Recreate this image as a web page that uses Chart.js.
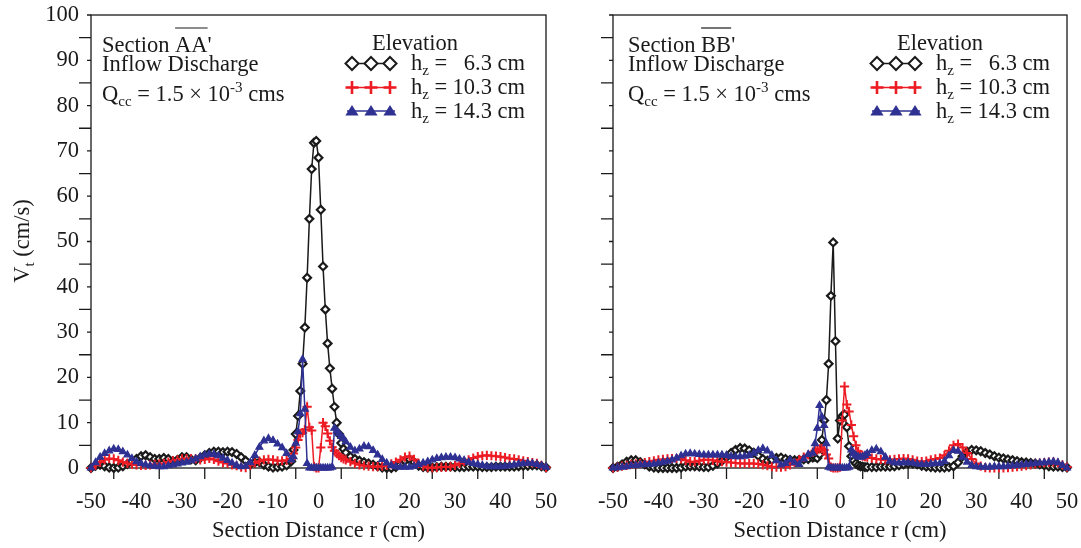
<!DOCTYPE html>
<html>
<head>
<meta charset="utf-8">
<script src="https://cdn.jsdelivr.net/npm/chart.js@4/dist/chart.umd.min.js"></script>
<style>
  body { margin: 0; background: #fff; width: 1081px; height: 548px; position: relative; overflow: hidden; }
  canvas { position: absolute; top: 0; }
  #chartA { left: 0; }
  #chartB { left: 562px; }
</style>
</head>
<body>
<canvas id="chartA" width="562" height="548"></canvas>
<canvas id="chartB" width="519" height="548"></canvas>
<script>
// section distance r (cm), finer spacing around the jet core
const distance = [
  -50, -49, -48, -47, -46, -45, -44, -43, -42, -41,
  -40, -39, -38, -37, -36, -35, -34, -33, -32, -31,
  -30, -29, -28, -27, -26, -25, -24, -23, -22, -21,
  -20, -19, -18, -17, -16, -15, -14, -13, -12, -11,
  -10, -9, -8, -7,
  -6, -5.5, -5, -4.5, -4, -3.5, -3, -2.5, -2, -1.5, -1, -0.5, 0, 0.5, 1, 1.5, 2, 2.5, 3, 3.5, 4, 4.5, 5, 5.5, 6,
  7, 8, 9, 10,
  11, 12, 13, 14, 15, 16, 17, 18, 19, 20,
  21, 22, 23, 24, 25, 26, 27, 28, 29, 30,
  31, 32, 33, 34, 35, 36, 37, 38, 39, 40,
  41, 42, 43, 44, 45, 46, 47, 48, 49, 50
];

// Section AA'  -  Vt (cm/s)
const sectionA_h63 = [
  0, 0.5, 0.7, 0.4, 0.1, 0, 0.1, 0.4, 0.9, 1.4,
  2.0, 2.6, 2.8, 2.4, 2.0, 2.0, 2.2, 2.0, 1.5, 1.8,
  2.4, 2.4, 1.9, 1.7, 2.2, 2.8, 3.3, 3.6, 3.6, 3.5,
  3.6, 3.5, 3.1, 2.4, 1.6, 0.8, 1.2, 1.3, 0.7, 0.3,
  0.1, 0.2, 0.3, 0.6,
  1.5, 4, 7.5, 11.5, 17, 23, 31, 42, 55, 66, 71.8, 72.2, 68.5, 57, 44.5, 35, 27.5, 22, 17.5, 13.5, 10, 7.5, 5.5, 4.2, 3.4,
  2.5, 2.0, 1.6, 1.3,
  1.0, 0.7, 0.4, 0.1, 0, 0, 0.2, 0.8, 1.6, 1.9,
  1.3, 0.5, 0.2, 0.1, 0.1, 0.2, 0.3, 0.3, 0.3, 0.2,
  0.2, 0.2, 0.3, 0.3, 0.3, 0.2, 0.2, 0.2, 0.3, 0.3,
  0.3, 0.3, 0.3, 0.4, 0.5, 0.5, 0.6, 0.6, 0.4, 0.1
];
const sectionA_h103 = [
  0, 0.6, 1.3, 1.8, 2.1, 2.0, 1.7, 1.3, 1.0, 0.8,
  0.7, 0.6, 0.6, 0.7, 0.8, 0.9, 1.0, 1.3, 1.6, 1.8,
  2.0, 2.1, 2.1, 2.0, 1.8, 1.9, 2.1, 1.9, 1.5, 1.2,
  1.0, 0.7, 0.5, 0.2, 0.1, 0.6, 1.1, 1.5, 1.8, 1.9,
  1.8, 1.6, 1.6, 1.7,
  2.0, 3.2, 4.5, 6.2, 7.5, 7.8, 8.5, 13.5, 9, 8.3, 0.3, 0, 0, 4.5, 10, 9.2, 7.6, 6, 4.6, 3.8, 3.2, 2.7, 2.3, 2.0, 1.8,
  1.4, 1.0, 0.7, 0.5,
  0.4, 0.3, 0.3, 0.4, 0.6, 0.9, 1.3, 1.8, 2.4, 2.6,
  1.9, 1.0, 0.4, 0.1, 0, 0.1, 0.2, 0.2, 0.3, 0.6,
  1.0, 1.4, 1.8, 2.2, 2.5, 2.7, 2.8, 2.7, 2.6, 2.5,
  2.3, 2.1, 2.0, 1.8, 1.6, 1.4, 1.2, 1.0, 0.6, 0.1
];
const sectionA_h143 = [
  0, 1.2, 2.4, 3.2, 3.8, 4.2, 4.1, 3.6, 2.9, 2.1,
  1.4, 1.0, 0.7, 0.5, 0.4, 0.3, 0.3, 0.5, 0.7, 0.9,
  1.1, 1.3, 1.6, 2.0, 2.5, 2.9, 3.1, 3.0, 2.7, 2.2,
  1.7, 1.1, 0.6, 0.3, 0.4, 1.2, 2.8, 4.6, 6.0, 6.5,
  6.1, 5.3, 4.5, 3.2,
  1.8, 2.5, 5.5, 8, 12, 24, 13, 1, 0, 0, 0, 0, 0, 0, 0, 0, 0, 0, 0.2, 8.8, 8.2, 7.6, 7.0, 6.5, 5.8,
  4.6, 3.8, 4.2, 4.8,
  4.7, 3.9, 2.9, 1.9, 1.1, 0.6, 0.3, 0.2, 0.2, 0.2,
  0.4, 0.8, 1.1, 1.4, 1.8, 2.1, 2.3, 2.4, 2.4, 2.3,
  2.0, 1.7, 1.3, 1.0, 0.8, 0.6, 0.4, 0.3, 0.3, 0.3,
  0.4, 0.5, 0.7, 0.9, 1.0, 1.1, 1.0, 0.8, 0.5, 0.2
];

// Section BB'  -  Vt (cm/s)
const sectionB_h63 = [
  0, 0.3, 0.8, 1.4, 1.7, 1.7, 1.3, 0.8, 0.3, 0.1,
  0, 0, 0, 0, 0, 0.1, 0.3, 0.4, 0.4, 0.3,
  0.2, 0.2, 0.5, 1.0, 1.6, 2.4, 3.3, 4.0, 4.4, 4.3,
  3.9, 3.4, 2.7, 2.0, 1.6, 1.8, 2.2, 2.3, 2.0, 1.8,
  1.7, 1.8, 1.9, 2.0,
  2.3, 2.5, 2.2, 3.0, 6.2, 10.5, 15, 23, 38, 49.8, 28, 6.5, 10.5, 11.5, 11.8, 9, 4.8, 2.6, 1.6, 1.0, 0.6, 0.4, 0.3, 0.2, 0.2,
  0.2, 0.2, 0.3, 0.3,
  0.3, 0.4, 0.6, 0.8, 1.0, 1.0, 0.8, 0.5, 0.3, 0.2,
  0.1, 0.1, 0.1, 0.2, 0.4, 1.2, 2.6, 3.6, 4.0, 3.9,
  3.7, 3.3, 3.0, 2.6, 2.3, 2.1, 1.9, 1.7, 1.5, 1.3,
  1.2, 1.1, 1.0, 0.8, 0.6, 0.4, 0.3, 0.3, 0.2, 0.1
];
const sectionB_h103 = [
  0, 0.2, 0.4, 0.6, 0.8, 0.9, 1.0, 1.2, 1.4, 1.6,
  1.8, 1.9, 2.0, 2.1, 2.1, 2.0, 1.7, 1.4, 1.4, 1.6,
  1.8, 1.8, 1.7, 1.5, 1.4, 1.3, 1.2, 1.1, 1.0, 1.0,
  1.0, 1.0, 0.9, 0.7, 0.5, 0.3, 0.2, 0.2, 0.3, 0.7,
  1.2, 1.8, 2.4, 2.9,
  3.5, 3.8, 4.0, 4.2, 4.3, 4.0, 3.0, 2.1, 0.2, 0, 0, 0, 0.2, 10.5, 18, 14, 12.5, 9.5, 7, 5, 3.7, 3.0, 2.6, 2.5, 2.4,
  2.2, 2.0, 1.9, 1.8,
  1.8, 1.9, 2.0, 2.1, 2.0, 1.8, 1.5, 1.4, 1.5, 1.8,
  2.0, 2.2, 2.8, 3.8, 5.0, 5.3, 4.5, 3.3, 2.0, 1.0,
  0.4, 0.1, 0, 0, 0, 0, 0.1, 0.2, 0.3, 0.4,
  0.5, 0.7, 0.9, 1.1, 1.2, 1.3, 1.3, 1.1, 0.7, 0.2
];
const sectionB_h143 = [
  0, 0.1, 0.2, 0.3, 0.5, 0.6, 0.7, 0.8, 0.8, 0.9,
  1.1, 1.3, 1.5, 1.8, 2.2, 2.7, 3.1, 3.2, 3.1, 3.0,
  2.9, 2.9, 2.9, 2.9, 2.9, 2.8, 2.6, 2.5, 2.5, 2.6,
  2.8, 3.3, 3.9, 4.3, 3.8, 2.8, 1.6, 0.7, 1.0, 1.8,
  1.2, 0.8, 2.0, 3.0,
  3.3, 5.4, 8.8, 13.8, 11.3, 9.4, 5.4, 0.2, 0, 0, 0, 0, 0, 0, 0, 0, 0.2, 4.0, 3.2, 2.8, 2.5, 2.4, 2.5, 2.8, 3.2,
  3.9, 4.2, 3.6, 2.4,
  1.5, 1.2, 1.1, 1.2, 1.2, 1.1, 0.9, 0.8, 0.8, 0.9,
  1.0, 1.0, 1.5, 2.7, 3.9, 3.7, 2.4, 1.3, 0.6, 0.3,
  0.2, 0.2, 0.2, 0.3, 0.3, 0.3, 0.4, 0.5, 0.6, 0.7,
  0.8, 0.9, 1.0, 1.1, 1.2, 1.3, 1.4, 1.2, 0.6, 0
];

const elevations = ['6.3 cm', '10.3 cm', '14.3 cm'];

const FONT = '"Liberation Serif", "Times New Roman", serif';
const FS = 22.5;   // main text size
const SS = 15;     // sub/superscript size
const INK = '#1a1a1a';
const RED = '#ed1c24';
const BLUE = '#2e3192';

function points(vals) {
  return distance.map((r, i) => ({ x: r, y: vals[i] }));
}

function makeDatasets(h63, h103, h143) {
  return [
    { label: elevations[2], data: points(h143), order: 0, borderColor: BLUE, borderWidth: 1.5,
      pointStyle: 'triangle', pointRadius: 4, pointBackgroundColor: BLUE, pointBorderColor: BLUE, pointBorderWidth: 1.2 },
    { label: elevations[1], data: points(h103), order: 1, borderColor: RED, borderWidth: 1.5,
      pointStyle: 'cross', pointRadius: 4.6, pointBackgroundColor: RED, pointBorderColor: RED, pointBorderWidth: 2 },
    { label: elevations[0], data: points(h63), order: 2, borderColor: INK, borderWidth: 1.5,
      pointStyle: 'rectRot', pointRadius: 3.9, pointBackgroundColor: '#fff', pointBorderColor: INK, pointBorderWidth: 2.2 }
  ];
}

// box + outside ticks (long ones on the odd fives, like the original)
const framePlugin = {
  id: 'frame',
  beforeDatasetsDraw(chart) {
    const { ctx, chartArea: a, scales: { x, y } } = chart;
    ctx.save();
    ctx.strokeStyle = INK;
    ctx.lineWidth = 1.3;
    ctx.strokeRect(a.left, a.top, a.right - a.left, a.bottom - a.top);
    ctx.beginPath();
    for (let v = -45; v <= 45; v += 10) {
      const px = x.getPixelForValue(v);
      ctx.moveTo(px, a.bottom);
      ctx.lineTo(px, a.bottom + 11);
    }
    for (let v = 0; v <= 100; v += 5) {
      const py = y.getPixelForValue(v);
      const len = v % 10 ? 12 : 4;
      ctx.moveTo(a.left, py);
      ctx.lineTo(a.left - len, py);
    }
    ctx.stroke();
    ctx.restore();
  }
};

function drawParts(ctx, x, y, parts) {
  parts.forEach(p => {
    ctx.font = (p.s || FS) + 'px ' + FONT;
    ctx.fillText(p.t, x, y + (p.dy || 0));
    x += ctx.measureText(p.t).width;
  });
  return x;
}

function diamond(ctx, cx, cy, r) {
  ctx.beginPath();
  ctx.moveTo(cx, cy - r); ctx.lineTo(cx + r, cy); ctx.lineTo(cx, cy + r); ctx.lineTo(cx - r, cy); ctx.closePath();
  ctx.fillStyle = '#fff'; ctx.fill(); ctx.stroke();
}
function cross(ctx, cx, cy, r) {
  ctx.beginPath();
  ctx.moveTo(cx - r, cy); ctx.lineTo(cx + r, cy); ctx.moveTo(cx, cy - r); ctx.lineTo(cx, cy + r);
  ctx.stroke();
}
function triangle(ctx, cx, cy, r) {
  ctx.beginPath();
  ctx.moveTo(cx, cy - r); ctx.lineTo(cx + r * 1.1, cy + r * 0.75); ctx.lineTo(cx - r * 1.1, cy + r * 0.75); ctx.closePath();
  ctx.fill();
}

function notesPlugin(section, dx, sdx, withYTitle) {
  return {
    id: 'notes',
    afterDraw(chart) {
      const { ctx, chartArea: a } = chart;
      const L = a.left + dx;
      ctx.save();
      ctx.fillStyle = INK;
      ctx.strokeStyle = INK;
      ctx.textBaseline = 'alphabetic';
      ctx.textAlign = 'left';

      // section label with overline
      const sx = L + 11 + sdx;
      let x = drawParts(ctx, sx, 51.5, [{ t: 'Section ' }]);
      const x1 = x;
      x = drawParts(ctx, x, 51.5, [{ t: section }]);
      ctx.lineWidth = 1.2;
      ctx.beginPath(); ctx.moveTo(x1, 28); ctx.lineTo(x, 28); ctx.stroke();
      drawParts(ctx, x, 51.5, [{ t: "'" }]);
      drawParts(ctx, sx, 71, [{ t: 'Inflow Discharge' }]);
      drawParts(ctx, sx, 101, [
        { t: 'Q' }, { t: 'cc', s: SS, dy: 5 }, { t: ' = 1.5 \u00d7 10' }, { t: '-3', s: SS, dy: -9 }, { t: ' cms' }
      ]);

      // legend
      ctx.font = FS + 'px ' + FONT;
      ctx.textAlign = 'center';
      ctx.fillText('Elevation', L + 324, 49.5);
      ctx.textAlign = 'left';
      const rows = [
        { y: 63.5, color: INK, draw: diamond, r: 6.5 },
        { y: 87.5, color: RED, draw: cross, r: 6.5 },
        { y: 111, color: BLUE, draw: triangle, r: 6 }
      ];
      rows.forEach((row, i) => {
        ctx.strokeStyle = row.color;
        ctx.fillStyle = row.color;
        ctx.lineWidth = 1.6;
        ctx.beginPath(); ctx.moveTo(L + 256, row.y); ctx.lineTo(L + 304, row.y); ctx.stroke();
        ctx.lineWidth = i === 1 ? 2.6 : 2;
        [L + 261, L + 280, L + 299].forEach(cx => row.draw(ctx, cx, row.y, row.r));
        ctx.fillStyle = INK;
        const ty = row.y + 6.5;
        drawParts(ctx, L + 320, ty, [{ t: 'h' }, { t: 'z', s: SS, dy: 5 }, { t: ' =' }]);
        ctx.font = FS + 'px ' + FONT;
        ctx.textAlign = 'right';
        ctx.fillText(elevations[i], L + 434, ty);
        ctx.textAlign = 'left';
      });

      if (withYTitle) {
        ctx.fillStyle = INK;
        ctx.translate(22, 241);
        ctx.rotate(-Math.PI / 2);
        ctx.font = FS + 'px ' + FONT;
        const w = ctx.measureText('V').width;
        const w3 = ctx.measureText(' (cm/s)').width;
        ctx.font = SS + 'px ' + FONT;
        const w2 = ctx.measureText('t').width;
        drawParts(ctx, -(w + w2 + w3) / 2, 7, [{ t: 'V' }, { t: 't', s: SS, dy: 5 }, { t: ' (cm/s)' }]);
      }
      ctx.restore();
    }
  };
}

// tick marks are drawn by framePlugin; Chart.js ticks are kept invisible and only
// used as spacing so that ticks.padding does not eat into the plot area
const hiddenTicks = (len) => ({ display: true, drawOnChartArea: false, drawTicks: true, tickLength: len, tickColor: 'rgba(0,0,0,0)' });

function makeChart(id, sets, yWidth, padRight, showYLabels, notes) {
  return new Chart(document.getElementById(id), {
    type: 'line',
    data: { datasets: sets },
    options: {
      responsive: false,
      animation: false,
      clip: false,
      layout: { padding: { left: 0, right: padRight, top: 15, bottom: 0 } },
      elements: { line: { tension: 0 } },
      plugins: { legend: { display: false }, tooltip: { enabled: false } },
      scales: {
        x: {
          type: 'linear', min: -50, max: 50,
          grid: hiddenTicks(21),
          border: { display: false },
          ticks: { stepSize: 10, color: INK, font: { family: FONT, size: FS }, padding: 0, maxRotation: 0 },
          title: { display: true, text: 'Section Distance r (cm)', color: INK, font: { family: FONT, size: FS }, padding: { top: 0, bottom: 3 } },
          afterFit: (scale) => { scale.height = 80; }
        },
        y: {
          min: 0, max: 100,
          grid: hiddenTicks(12),
          border: { display: false },
          ticks: { display: showYLabels, stepSize: 10, color: INK, font: { family: FONT, size: FS }, padding: 0 },
          afterFit: (scale) => { scale.width = yWidth; }
        }
      }
    },
    plugins: [framePlugin, notes]
  });
}

makeChart('chartA', makeDatasets(sectionA_h63, sectionA_h103, sectionA_h143), 91, 16, true,
  notesPlugin('AA', 0, 0, true));
makeChart('chartB', makeDatasets(sectionB_h63, sectionB_h103, sectionB_h143), 51, 14, false,
  notesPlugin('BB', 3, 1, false));
</script>
</body>
</html>
